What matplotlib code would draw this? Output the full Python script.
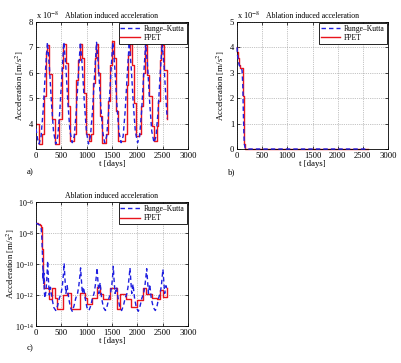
import matplotlib

matplotlib.use("Agg")
import matplotlib.pyplot as plt
import numpy as np

plt.rcParams["font.family"] = ["Liberation Serif", "DejaVu Serif"]
plt.rcParams["mathtext.fontset"] = "stix"

# --- panel a: periodic ablation acceleration [1e-8 m/s^2] ---
t_a_rk = [0, 30, 60, 100, 140, 180, 225, 265, 305, 345, 390,
          430, 470, 510, 550, 590, 630, 670, 715,
          755, 795, 835, 875, 915, 955, 995, 1035,
          1075, 1115, 1155, 1195, 1235, 1275, 1315, 1355,
          1395, 1435, 1475, 1515, 1555, 1595, 1635, 1680,
          1720, 1760, 1800, 1840, 1880, 1920, 1960, 2005,
          2045, 2085, 2125, 2165, 2205, 2245, 2285, 2330,
          2370, 2410, 2450, 2490, 2530, 2570, 2590]
acc_a_rk = [3.8, 3.4, 3.2, 3.5, 4.5, 5.9, 7.2, 6.2, 4.8, 3.7, 3.2,
            3.5, 4.5, 5.9, 7.2, 6.2, 4.8, 3.7, 3.25,
            3.5, 4.5, 5.9, 7.2, 6.2, 4.8, 3.7, 3.2,
            3.5, 4.5, 5.9, 7.2, 6.2, 4.8, 3.7, 3.25,
            3.5, 4.5, 5.9, 7.2, 6.2, 4.8, 3.7, 3.25,
            3.5, 4.5, 5.9, 7.2, 6.2, 4.8, 3.7, 3.25,
            3.5, 4.5, 5.9, 7.15, 6.2, 4.8, 3.7, 3.25,
            3.5, 4.5, 5.9, 7.15, 6.2, 4.8, 4.2]

t_a_fpet = [0, 65, 125, 160, 195, 215, 265, 310, 375,
            460, 505, 540, 585, 625, 670,
            750, 790, 835, 870, 905, 940, 985, 1040,
            1090, 1130, 1160, 1185, 1225, 1265, 1310,
            1390, 1430, 1470, 1500, 1540, 1580, 1620,
            1760, 1790, 1820, 1850, 1890, 1930, 1970, 2030,
            2080, 2110, 2150, 2190, 2230, 2280, 2330,
            2380, 2410, 2440, 2470, 2520, 2550, 2590]
acc_a_fpet = [4.0, 3.2, 3.6, 5.1, 6.8, 7.1, 5.95, 4.2, 3.2,
              4.2, 6.2, 7.15, 6.4, 4.7, 3.3,
              3.6, 5.7, 6.5, 7.15, 6.6, 5.2, 3.6, 3.3,
              3.6, 5.6, 6.6, 7.15, 6.0, 4.3, 3.25,
              3.6, 4.9, 6.3, 7.25, 6.6, 4.5, 3.3,
              3.6, 5.5, 6.7, 7.15, 6.3, 4.8, 3.5, 3.6,
              4.7, 6.0, 7.1, 5.9, 5.1, 3.9, 3.3,
              3.9, 4.9, 6.5, 7.1, 6.1, 6.1, 4.2]

# --- panel b: decaying acceleration [1e-8 m/s^2] ---
t_b_rk = [0, 10, 25, 45, 70, 100, 115, 125, 135, 145, 160, 200, 2600]
acc_b_rk = [4.0, 3.7, 3.45, 3.3, 3.2, 3.1, 2.5, 1.5, 0.7, 0.2, 0.05, 0.0, 0.0]
t_b_fpet = [0, 8, 18, 30, 45, 60, 120, 130, 140, 150, 165, 2600]
acc_b_fpet = [4.0, 3.8, 3.6, 3.4, 3.3, 3.2, 2.1, 1.0, 0.2, 0.05, 0.0, 0.0]

# --- panel c: log10 of acceleration [m/s^2] ---
t_c_rk = [0, 40, 80, 100, 115, 125, 135, 140, 145, 150, 155, 162, 175, 195, 212,
          230, 245, 262, 285, 315, 350, 390, 425, 460, 495, 520, 540,
          555, 570, 590, 615, 645, 680, 715, 750, 785, 820, 845, 865,
          880, 895, 915, 940, 970, 1005, 1045, 1080, 1115, 1145, 1170, 1190,
          1205, 1220, 1240, 1265, 1295, 1330, 1370, 1405, 1440, 1470, 1495, 1512,
          1525, 1540, 1560, 1590, 1620, 1655, 1690, 1725, 1760, 1795, 1820, 1840,
          1855, 1870, 1890, 1915, 1945, 1980, 2020, 2055, 2090, 2125, 2150, 2170,
          2185, 2200, 2220, 2245, 2275, 2315, 2355, 2390, 2420, 2450, 2475, 2492,
          2505, 2520, 2540, 2565, 2590]
log_c_rk = [-7.37, -7.43, -7.5, -7.6, -8.3, -9.2, -10.3, -11.0, -10.4, -11.3, -10.6, -11.7, -12.2, -11.8, -11.0,
            -9.8, -11.0, -12.0, -11.5, -12.2, -12.8, -13.0, -12.7, -12.2, -11.9, -11.4, -10.7,
            -9.95, -10.9, -11.9, -11.4, -12.2, -12.8, -13.05, -12.7, -12.2, -11.9, -11.4, -10.8,
            -10.25, -11.0, -11.9, -11.5, -12.2, -12.8, -13.0, -12.7, -12.2, -11.9, -11.4, -10.8,
            -10.25, -11.0, -11.9, -11.2, -12.2, -12.8, -13.0, -12.7, -12.2, -11.9, -11.4, -10.8,
            -10.15, -11.0, -11.9, -11.5, -12.2, -12.8, -13.0, -12.7, -12.2, -11.9, -11.4, -10.8,
            -10.25, -11.0, -11.9, -11.3, -12.2, -12.8, -13.05, -12.7, -12.2, -11.9, -11.4, -10.8,
            -10.3, -11.0, -11.9, -11.3, -12.2, -12.8, -13.0, -12.7, -12.2, -11.9, -11.4, -10.8,
            -10.35, -11.0, -11.9, -11.4, -11.7]

t_c_fpet = [0, 40, 80, 100, 112, 122, 132, 142, 155,
            265, 310, 375, 405, 540, 605, 700,
            865, 965, 1010, 1115, 1195, 1260, 1325,
            1455, 1590, 1655, 1785, 1885, 1985,
            2115, 2180, 2280, 2380, 2450, 2510, 2590]
log_c_fpet = [-7.37, -7.42, -7.5, -7.6, -8.2, -9.0, -10.0, -11.0, -11.54,
              -12.23, -11.54, -12.2, -12.9, -12.0, -11.9, -12.9,
              -11.85, -12.2, -12.6, -12.2, -11.5, -11.95, -12.25,
              -11.55, -12.9, -11.95, -12.25, -12.75, -12.35,
              -11.55, -11.95, -12.2, -12.25, -11.65, -12.1, -11.55]

TITLE = "Ablation induced acceleration"
YLABEL = r"Acceleration [m/s$^2$]"
XLABEL = "t [days]"
C_RK = "#1f1fe0"
C_FPET = "#e8141c"


def _style(ax):
    ax.set_xlim(0, 3000)
    ax.set_xticks(np.arange(0, 3001, 500))
    ax.tick_params(direction="in", top=True, right=True, labelsize=6.2,
                   length=2.5, width=0.5, pad=2)
    ax.grid(True, linestyle=":", color="0.55", linewidth=0.5)
    for s in ax.spines.values():
        s.set_linewidth(0.6)
    ax.set_title(TITLE, fontsize=5.6, pad=3)
    ax.set_xlabel(XLABEL, fontsize=6.3, labelpad=0.5)
    ax.set_ylabel(YLABEL, fontsize=6.3, labelpad=2)
    ax.legend(loc="upper right", fontsize=5.5, frameon=True, fancybox=False,
              edgecolor="black", framealpha=1, borderaxespad=0.15,
              handlelength=2.6, borderpad=0.25, labelspacing=0.15,
              handletextpad=0.5).get_frame().set_linewidth(0.6)


def _pair(ax, t_rk, y_rk, t_fp, y_fp, clip=True):
    ax.plot(t_rk, y_rk, color=C_RK, linewidth=1.0, dashes=(3.2, 2.2),
            label="Runge\u2013Kutta", clip_on=clip, zorder=3)
    ax.plot(t_fp, y_fp, color=C_FPET, linewidth=1.0, drawstyle="steps-post",
            label="FPET", clip_on=clip, zorder=2)


fig = plt.figure(figsize=(4.02, 3.63), dpi=100)
ax_a = fig.add_axes([0.0896, 0.5895, 0.378, 0.350])
ax_b = fig.add_axes([0.5896, 0.5895, 0.3756, 0.350])
ax_c = fig.add_axes([0.0896, 0.1019, 0.378, 0.3416])

_pair(ax_a, t_a_rk, acc_a_rk, t_a_fpet, acc_a_fpet)
ax_a.set_ylim(3, 8)
ax_a.set_yticks([4, 5, 6, 7, 8])
_style(ax_a)

_pair(ax_b, t_b_rk, acc_b_rk, t_b_fpet, acc_b_fpet, clip=False)
ax_b.set_ylim(0, 5)
ax_b.set_yticks(range(6))
_style(ax_b)

for ax in (ax_a, ax_b):
    ax.text(0, 1.005, r"x 10$^{-8}$", transform=ax.transAxes,
            fontsize=6.0, va="bottom", ha="left")
    ax.yaxis.set_label_coords(-0.065, 0.5)

_pair(ax_c, t_c_rk, 10.0 ** np.asarray(log_c_rk),
      t_c_fpet, 10.0 ** np.asarray(log_c_fpet))
ax_c.set_yscale("log")
ax_c.set_ylim(1e-14, 1e-6)
ax_c.set_yticks([1e-14, 1e-12, 1e-10, 1e-8, 1e-6])
ax_c.yaxis.set_minor_locator(matplotlib.ticker.NullLocator())
_style(ax_c)
ax_c.tick_params(axis="y", labelsize=5.8, pad=1.5)
ax_c.yaxis.set_label_coords(-0.125, 0.5)

fig.text(0.067, 0.526, "a)", fontsize=6.3, va="center")
fig.text(0.567, 0.526, "b)", fontsize=6.3, va="center")
fig.text(0.067, 0.041, "c)", fontsize=6.3, va="center")

fig.savefig("out.png", dpi=100, facecolor="white")
plt.close(fig)
